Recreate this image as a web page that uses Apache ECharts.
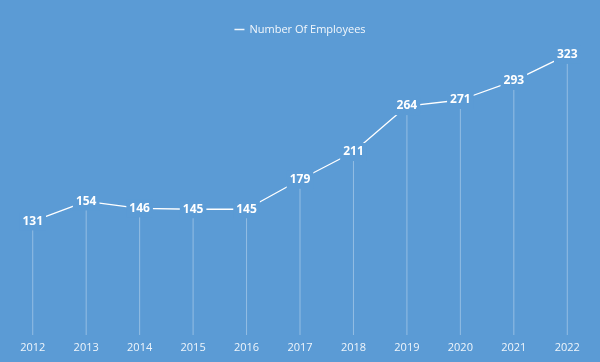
<!DOCTYPE html>
<html><head><meta charset="utf-8">
<script src="https://cdn.jsdelivr.net/npm/echarts@6/dist/echarts.min.js"></script>
<style>html,body{margin:0;padding:0;background:#5b9bd5;}#c{width:600px;height:362px;}</style>
</head><body><div id="c"></div>
<script>
const years = ['2012','2013','2014','2015','2016','2017','2018','2019','2020','2021','2022'];
const employees = [131,154,146,145,145,179,211,264,271,293,323];
const seriesName = 'Number Of Employees';
const bg = '#5b9bd5';
const chart = echarts.init(document.getElementById('c'));
chart.setOption({
  backgroundColor: bg,
  animation: false,
  legend: {
    top: 19, left: 'center',
    data: [{name: seriesName, icon: 'rect', itemStyle: {color: 'rgba(255,255,255,0.9)', opacity: 1}}],
    itemWidth: 10, itemHeight: 1.5, itemGap: 5,
    textStyle: {color: 'rgba(255,255,255,0.92)', fontFamily: 'Open Sans', fontSize: 11}
  },
  grid: {left: 6, right: 6, top: 31.5, bottom: 27},
  xAxis: {
    type: 'category', data: years, boundaryGap: true,
    axisLine: {show: false}, axisTick: {show: false},
    axisLabel: {color: 'rgba(255,255,255,0.9)', fontFamily: 'Open Sans', fontSize: 11, margin: 7}
  },
  yAxis: {type: 'value', min: 0, max: 350, show: false, splitLine: {show: false}},
  series: [
    {
      type: 'bar', name: 'drop', data: employees, barWidth: 1,
      itemStyle: {color: 'rgba(255,255,255,0.35)'}, silent: true, z: 1
    },
    {
      type: 'line', name: seriesName, data: employees,
      showSymbol: true, symbol: 'circle', symbolSize: 1,
      lineStyle: {color: '#ffffff', width: 1.3},
      itemStyle: {color: '#ffffff'},
      z: 2,
      label: {
        show: true, position: 'inside', color: '#ffffff',
        fontFamily: 'Open Sans', fontWeight: 'bold', fontSize: 12,
        backgroundColor: bg, padding: [3, 3]
      }
    }
  ]
});
</script></body></html>
